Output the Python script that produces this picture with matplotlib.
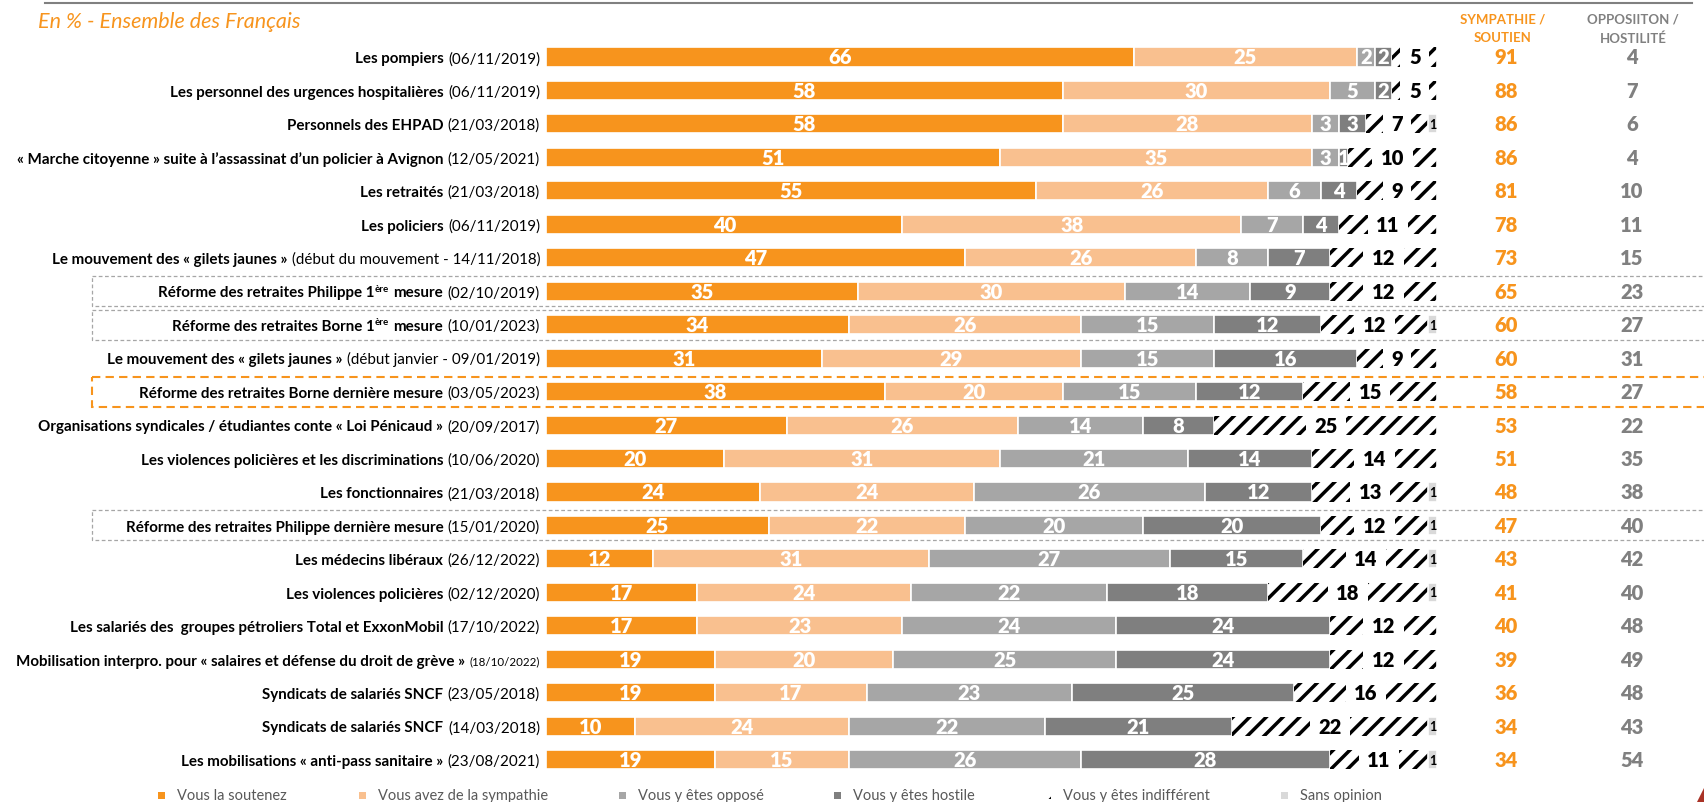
import matplotlib
matplotlib.use("Agg")
import matplotlib.pyplot as plt
from matplotlib import transforms
from matplotlib.patches import Rectangle, Polygon
from matplotlib.lines import Line2D

W, H, DPI = 1704, 803, 100

# ---- data -------------------------------------------------------------
names = [
    "Les pompiers",
    "Les personnel des urgences hospitalières",
    "Personnels des EHPAD",
    "« Marche citoyenne » suite à l’assassinat d’un policier à Avignon",
    "Les retraités",
    "Les policiers",
    "Le mouvement des « gilets jaunes »",
    "Réforme des retraites Philippe 1ère mesure",
    "Réforme des retraites Borne 1ère mesure",
    "Le mouvement des « gilets jaunes »",
    "Réforme des retraites Borne dernière mesure",
    "Organisations syndicales / étudiantes conte « Loi Pénicaud »",
    "Les violences policières et les discriminations",
    "Les fonctionnaires",
    "Réforme des retraites Philippe dernière mesure",
    "Les médecins libéraux",
    "Les violences policières",
    "Les salariés des  groupes pétroliers Total et ExxonMobil",
    "Mobilisation interpro. pour « salaires et défense du droit de grève »",
    "Syndicats de salariés SNCF",
    "Syndicats de salariés SNCF",
    "Les mobilisations « anti-pass sanitaire »",
]
dates = [
    "(06/11/2019)", "(06/11/2019)", "(21/03/2018)", "(12/05/2021)",
    "(21/03/2018)", "(06/11/2019)", "(début du mouvement - 14/11/2018)",
    "(02/10/2019)", "(10/01/2023)", "(début janvier - 09/01/2019)",
    "(03/05/2023)", "(20/09/2017)", "(10/06/2020)", "(21/03/2018)",
    "(15/01/2020)", "(26/12/2022)", "(02/12/2020)", "(17/10/2022)",
    "(18/10/2022)", "(23/05/2018)", "(14/03/2018)", "(23/08/2021)",
]
soutien      = [66, 58, 58, 51, 55, 40, 47, 35, 34, 31, 38, 27, 20, 24, 25, 12, 17, 17, 19, 19, 10, 19]
sympathie    = [25, 30, 28, 35, 26, 38, 26, 30, 26, 29, 20, 26, 31, 24, 22, 31, 24, 23, 20, 17, 24, 15]
oppose       = [2, 5, 3, 3, 6, 7, 8, 14, 15, 15, 15, 14, 21, 26, 20, 27, 22, 24, 25, 23, 22, 26]
hostile      = [2, 2, 3, 1, 4, 4, 7, 9, 12, 16, 12, 8, 14, 12, 20, 15, 18, 24, 24, 25, 21, 28]
indifferent  = [5, 5, 7, 10, 9, 11, 12, 12, 12, 9, 15, 25, 14, 13, 12, 14, 18, 12, 12, 16, 22, 11]
sans_opinion = [0, 0, 1, 0, 0, 0, 0, 0, 1, 0, 0, 0, 0, 1, 1, 1, 1, 0, 0, 0, 1, 1]
total_sympathie  = [91, 88, 86, 86, 81, 78, 73, 65, 60, 60, 58, 53, 51, 48, 47, 43, 41, 40, 39, 36, 34, 34]
total_opposition = [4, 7, 6, 4, 10, 11, 15, 23, 27, 31, 27, 22, 35, 38, 40, 42, 40, 48, 49, 48, 43, 54]

series_names = ["Vous la soutenez", "Vous avez de la sympathie", "Vous y êtes opposé",
                "Vous y êtes hostile", "Vous y êtes indifférent", "Sans opinion"]
series_colors = ["#F7941D", "#F9C08F", "#A6A6A6", "#7F7F7F", "white", "#D9D9D9"]

gray_boxed_rows = [7, 8, 14]
orange_boxed_rows = [10]
small_date_rows = [18]

ORANGE = "#F7941D"
GRAY = "#808080"

# ---- figure -----------------------------------------------------------
plt.rcParams["font.family"] = ["Lato", "DejaVu Sans"]
plt.rcParams["hatch.linewidth"] = 2.5
plt.rcParams["hatch.color"] = "black"

fig = plt.figure(figsize=(W / DPI, H / DPI), dpi=DPI)
fig.patch.set_facecolor("white")

pitch = 33.46
row0 = 58.0
n = len(names)
ax_top = row0 - pitch / 2
ax_bot = row0 + (n - 1) * pitch + pitch / 2
ax = fig.add_axes([546 / W, 1 - ax_bot / H, 891 / W, (ax_bot - ax_top) / H])
ax.set_xlim(0, 100)
ax.set_ylim(n - 0.5, -0.5)
ax.axis("off")

rows = list(range(n))
series = [soutien, sympathie, oppose, hostile, indifferent, sans_opinion]
left = [0] * n
bar_h = 0.57
for k, (vals, col) in enumerate(zip(series, series_colors)):
    if k == 4:
        ax.barh(rows, vals, left=left, height=bar_h, color="white",
                edgecolor="black", hatch="//", linewidth=0)
    else:
        ax.barh(rows, vals, left=left, height=bar_h, color=col,
                edgecolor="white", linewidth=1.2)
    for r in rows:
        v = vals[r]
        if v <= 0:
            continue
        xc = left[r] + v / 2
        if k < 4:
            ax.text(xc, r, str(v), ha="center", va="center", color="white",
                    fontsize=14.5, fontweight="heavy")
        elif k == 4:
            ax.text(xc, r, str(v), ha="center", va="center", color="black",
                    fontsize=14.5, fontweight="heavy",
                    bbox=dict(boxstyle="square,pad=0.42", fc="white", ec="none"))
        else:
            ax.text(xc, r, str(v), ha="center", va="center", color="black",
                    fontsize=9, fontweight="bold")
    left = [a + b for a, b in zip(left, vals)]

# ---- totals columns ---------------------------------------------------
col_tf = transforms.blended_transform_factory(fig.transFigure, ax.transData)
for r in rows:
    ax.text(1506 / W, r, str(total_sympathie[r]), transform=col_tf, ha="center",
            va="center", color=ORANGE, fontsize=14.5, fontweight="heavy")
    ax.text(1632 / W, r, str(total_opposition[r]), transform=col_tf, ha="center",
            va="center", color=GRAY, fontsize=14.5, fontweight="heavy")

fig.text(1503 / W, 1 - 20 / H, "SYMPATHIE /", ha="center", va="center",
         color=ORANGE, fontsize=9.5, fontweight="bold")
fig.text(1503 / W, 1 - 38.5 / H, "SOUTIEN", ha="center", va="center",
         color=ORANGE, fontsize=9.5, fontweight="bold")
fig.text(1633 / W, 1 - 20 / H, "OPPOSIITON /", ha="center", va="center",
         color=GRAY, fontsize=9.5, fontweight="bold")
fig.text(1633 / W, 1 - 38.5 / H, "HOSTILITÉ", ha="center", va="center",
         color=GRAY, fontsize=9.5, fontweight="bold")

# ---- row labels (bold name + regular date, right aligned) -------------
renderer = fig.canvas.get_renderer()
LABEL_SIZE = 10.9
BASE = -3.8  # baseline offset from row centre, points


def draw_label(r, parts):
    # parts run left to right; each carries the gap that follows it
    offset = 0.0
    for text, weight, size, rise, gap in reversed(parts):
        offset += gap
        t = ax.annotate(text, xy=(540 / W, r), xycoords=col_tf,
                        xytext=(-offset, BASE + rise), textcoords="offset points",
                        ha="right", va="baseline", fontsize=size,
                        fontweight=weight, color="black", annotation_clip=False)
        bb = t.get_window_extent(renderer)
        offset += bb.width * 72 / DPI


for r in rows:
    name = names[r]
    dsize = 8.3 if r in small_date_rows else LABEL_SIZE
    sp = 0.3 * LABEL_SIZE
    parts = []
    if "1ère" in name:
        before, _, after = name.partition("1ère")
        parts.append((before + "1", "bold", LABEL_SIZE, 0, 0.3))
        parts.append(("ère", "bold", 7, 4.0, sp))
        parts.append((after.strip(), "bold", LABEL_SIZE, 0, sp))
    else:
        parts.append((name, "bold", LABEL_SIZE, 0, sp))
    parts.append((dates[r], "normal", dsize, 0, 0))
    draw_label(r, parts)

# ---- highlight boxes ----------------------------------------------------
box_x0 = 92 / W
half = 15 / pitch
for r in gray_boxed_rows:
    fig.add_artist(Rectangle((box_x0, r - half), 1.2 - box_x0, 2 * half,
                             transform=col_tf, fill=False, ec="#A6A6A6",
                             lw=0.9, ls=(0, (3, 2)), clip_on=False))
for r in orange_boxed_rows:
    fig.add_artist(Rectangle((box_x0, r - half), 1.2 - box_x0, 2 * half,
                             transform=col_tf, fill=False, ec=ORANGE,
                             lw=1.5, ls=(0, (4, 2.5)), clip_on=False))

# ---- header line and subtitle -------------------------------------------
fig.add_artist(Line2D([45 / W, 1692 / W], [1 - 3.5 / H, 1 - 3.5 / H],
                      transform=fig.transFigure, color=GRAY, lw=1.5))
fig.text(38 / W, 1 - 22 / H, "En % - Ensemble des Français", ha="left",
         va="center", color=ORANGE, fontsize=15.5, style="italic")

# ---- legend ---------------------------------------------------------------
legend_x = [161, 362, 622, 837, 1047, 1284]
ly = 796
msize = 7
for name, col, lx in zip(series_names, series_colors, legend_x):
    if col == "white":
        fig.add_artist(Rectangle(((lx - msize / 2) / W, 1 - (ly + msize / 2) / H),
                                 msize / W, msize / H, transform=fig.transFigure,
                                 fc="white", ec="black", lw=0, hatch="//"))
    else:
        fig.add_artist(Rectangle(((lx - msize / 2) / W, 1 - (ly + msize / 2) / H),
                                 msize / W, msize / H, transform=fig.transFigure,
                                 fc=col, ec="none"))
    fig.text((lx + 16) / W, 1 - ly / H, name, ha="left", va="center",
             color="#595959", fontsize=10.5)

# corner mark
fig.add_artist(Polygon([[1697 / W, 0], [1 + 1 / W, 16 / H], [1 + 1 / W, 0]],
                       closed=True, transform=fig.transFigure, fc="#A93226",
                       ec="none"))

fig.savefig("out.png", dpi=DPI, facecolor="white")
